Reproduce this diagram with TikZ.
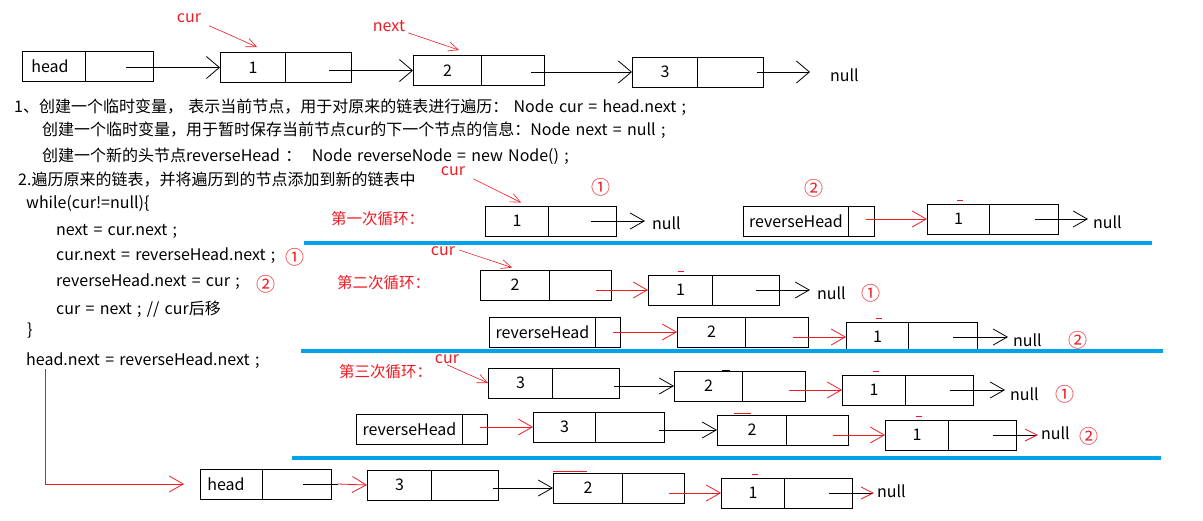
\documentclass[tikz,border=0pt]{standalone}
\usepackage{fontspec}
\setmainfont{Noto Sans CJK SC}
\usetikzlibrary{arrows.meta}
\definecolor{myred}{RGB}{237,28,36}
\definecolor{myblue}{RGB}{0,162,232}
\newcommand\cellt[2]{\noindent\makebox[#1]{#2}}
\newcommand\widesp{\spaceskip=5.3pt\relax}
\begin{document}
\begin{tikzpicture}[x=1pt,y=-1pt,
  cell/.style={draw, line width=0.9pt, minimum height=30pt, text width=131pt,
    inner xsep=0pt, inner ysep=0pt, align=left, anchor=west,
    font=\fontsize{16}{16}\selectfont,
    path picture={\draw[line width=0.9pt] ([xshift=#1]path picture bounding box.south west) -- ([xshift=#1]path picture bounding box.north west);}},
  txt/.style={anchor=west, inner sep=0pt, font=\fontsize{16}{19}\selectfont, execute at begin node=\widesp},
  rtxt/.style={anchor=center, inner sep=0pt, text=myred, font=\fontsize{15.5}{18}\selectfont},
  circ/.style={anchor=center, inner sep=0pt, text=myred, font=\fontsize{19}{20}\selectfont},
  bigar/.style={line width=0.8pt, -{Straight Barb[length=13pt,width=22pt]}},
  lar/.style={line width=0.8pt, -{Straight Barb[length=14pt,width=16pt]}},
  rar/.style={myred, line width=0.8pt, -{Straight Barb[length=14pt,width=16pt]}},
  cura/.style={myred, line width=0.6pt, -{Straight Barb[length=10pt,width=9pt]}},
  bline/.style={myblue, line width=3.5pt},
  rdash/.style={myred, line width=1pt}
]
\useasboundingbox (0,0) rectangle (1203,520);

% ---------- top row ----------
\node[cell=63pt] (h0) at (22,66.5) {\cellt{55pt}{head}};
\node[cell=65pt] (t1) at (220,67.5) {\cellt{65pt}{1}};
\node[cell=68pt] (t2) at (413,70.5) {\cellt{68pt}{2}};
\node[cell=65pt] (t3) at (632,72) {\cellt{65pt}{3}};
\node[txt] (n0) at (830,75) {null};
\draw[bigar] ([xshift=-28pt]h0.east |- t1.west) -- (t1.west);
\draw[bigar] ([xshift=-23pt]t1.east |- t2.west) -- (t2.west);
\draw[bigar] ([xshift=-14pt]t2.east |- t3.west) -- (t3.west);
\draw[bigar] ([xshift=-7pt]t3.east) -- ([xshift=-20pt]n0.west |- t3.east);
\node[rtxt, font=\fontsize{16}{18}\selectfont] (cur0) at (189,18) {cur};
\node[rtxt, font=\fontsize{16}{18}\selectfont] (next0) at (389,26) {next};
\draw[cura] ([shift={(8pt,-3pt)}]cur0.south east) -- ([shift={(37pt,5pt)}]t1.north west);
\draw[cura] ([shift={(3pt,-1pt)}]next0.south east) -- ([shift={(46pt,5pt)}]t2.north west);

% ---------- text ----------
\node[txt] (s1) at (14,107) {1、创建一个临时变量， 表示当前节点，用于对原来的链表进行遍历： Node cur = head.next ;};
\node[txt] (s2) at (42,130) {创建一个临时变量，用于暂时保存当前节点cur的下一个节点的信息：Node next = null ;};
\node[txt] (s3) at (42,156) {创建一个新的头节点reverseHead ：\ \ Node reverseNode = new Node() ;};
\node[txt] (s4) at (18,180) {2.遍历原来的链表，并将遍历到的节点添加到新的链表中};
\node[txt] (c0) at (26,204) {while(cur!=null)\{};
\node[txt] (c1) at (56,231) {next = cur.next ;};
\node[txt] (c2) at (56,256) {cur.next = reverseHead.next ;};
\node[txt] (c3) at (56,282) {reverseHead.next = cur ;};
\node[txt] (c4) at (56,309) {cur = next ; // cur后移};
\node[txt] (c5) at (27,331) {\}};
\node[txt] (c6) at (26,361) {head.next = reverseHead.next ;};
\node[circ] (m1) at (295,257) {①};
\node[circ] (m2) at (266,284) {②};

% ---------- loop 1 ----------
\node[rtxt, anchor=west] (lab1) at (331,219) {第一次循环：};
\node[rtxt, font=\fontsize{16}{18}\selectfont] (cur1) at (453,171) {cur};
\node[cell=63pt] (a1) at (485,221) {\cellt{63pt}{1}};
\node[txt] (nA) at (652,223) {null};
\draw[lar] ([xshift=-26pt]a1.east) -- ([xshift=-7pt]nA.west |- a1.east);
\draw[cura] ([shift={(8pt,-3pt)}]cur1.south east) -- ([shift={(36pt,3pt)}]a1.north west);
\node[circ] (p1) at (601,187) {①};
\node[circ] (p2) at (814,188) {②};
\node[cell=105pt] (r1) at (743,221) {\cellt{105pt}{reverseHead}};
\node[cell=62pt] (b1) at (927,219) {\cellt{62pt}{1}};
\draw[rdash] ([shift={(30pt,3pt)}]b1.north west) -- ([shift={(36pt,3pt)}]b1.north west);
\draw[rar] ([xshift=-9pt]r1.east |- b1.west) -- (b1.west);
\node[txt] (nB) at (1093,222) {null};
\draw[lar] ([xshift=-24pt]b1.east) -- ([xshift=-5pt]nB.west |- b1.east);
\coordinate (bl1a) at (304,243);
\coordinate (bl1b) at (1152,243);
\draw[bline] (bl1a) -- (bl1b);

% ---------- loop 2 ----------
\node[rtxt, anchor=west] (lab2) at (337,283) {第二次循环：};
\node[rtxt, font=\fontsize{16}{18}\selectfont] (cur2) at (443,251) {cur};
\node[cell=69pt] (a2) at (480,285) {\cellt{69pt}{2}};
\draw[cura] ([shift={(4pt,1pt)}]cur2.east) -- ([shift={(32pt,2pt)}]a2.north west);
\node[cell=64pt] (a2b) at (648,290) {\cellt{64pt}{1}};
\draw[rdash] ([shift={(30pt,3pt)}]a2b.north west) -- ([shift={(36pt,3pt)}]a2b.north west);
\draw[rar] ([xshift=-16pt]a2.east |- a2b.west) -- (a2b.west);
\node[txt] (nC) at (817,293) {null};
\draw[lar] ([xshift=-24pt]a2b.east) -- ([xshift=-7pt]nC.west |- a2b.east);
\node[circ] (q1) at (871,293) {①};
\node[cell=106pt] (r2) at (489,332) {\cellt{106pt}{reverseHead}};
\node[cell=68pt] (b2) at (677,332) {\cellt{68pt}{2}};
\draw[rar] ([xshift=-8pt]r2.east) -- (b2.west);
\node[cell=62pt] (c2b) at (846,337) {\cellt{62pt}{1}};
\draw[rdash] ([shift={(30pt,3pt)}]c2b.north west) -- ([shift={(36pt,3pt)}]c2b.north west);
\draw[rar] ([xshift=-16pt]b2.east |- c2b.west) -- (c2b.west);
\node[txt] (nD) at (1013,340) {null};
\draw[lar] ([xshift=-25pt]c2b.east) -- ([xshift=-5pt]nD.west |- c2b.east);
\node[circ] (q2) at (1078,340) {②};
\coordinate (bl2a) at (301,351);
\coordinate (bl2b) at (1163,351);
\draw[bline] (bl2a) -- (bl2b);

% ---------- loop 3 ----------
\node[rtxt, anchor=west] (lab3) at (339,372) {第三次循环：};
\node[rtxt, font=\fontsize{16}{18}\selectfont] (cur3) at (447,359) {cur};
\node[cell=64pt] (a3) at (488,383) {\cellt{64pt}{3}};
\draw[cura] ([shift={(0pt,-1pt)}]cur3.south) -- (a3.west);
\node[cell=68pt] (a3b) at (674,386) {\cellt{68pt}{2}};
\draw[line width=1.5pt] ([shift={(48pt,0pt)}]a3b.north west) -- ([shift={(56pt,0pt)}]a3b.north west);
\draw[lar] ([xshift=-6pt]a3.east |- a3b.west) -- (a3b.west);
\node[cell=63pt] (c3b) at (842,390) {\cellt{63pt}{1}};
\draw[rdash] ([shift={(31pt,3pt)}]c3b.north west) -- ([shift={(37pt,3pt)}]c3b.north west);
\draw[rar] ([xshift=-17pt]a3b.east |- c3b.west) -- (c3b.west);
\node[txt] (nE) at (1010,394) {null};
\draw[lar] ([xshift=-24pt]c3b.east) -- ([xshift=-5pt]nE.west |- c3b.east);
\node[circ] (u1) at (1065,394) {①};
\node[cell=106pt] (r3) at (356,429) {\cellt{106pt}{reverseHead}};
\node[cell=62pt] (d3) at (533,427) {\cellt{62pt}{3}};
\draw[rar] ([xshift=-8pt]r3.east |- d3.west) -- (d3.west);
\node[cell=69pt] (e3) at (717,430) {\cellt{69pt}{2}};
\draw[myred, line width=1.5pt] ([shift={(17pt,1pt)}]e3.north west) -- ([shift={(34pt,1pt)}]e3.north west);
\draw[lar] ([xshift=-6pt]d3.east |- e3.west) -- (e3.west);
\node[cell=63pt] (f3) at (885,435) {\cellt{63pt}{1}};
\draw[rdash] ([shift={(31pt,3pt)}]f3.north west) -- ([shift={(37pt,3pt)}]f3.north west);
\draw[rar] ([xshift=-16pt]e3.east |- f3.west) -- (f3.west);
\node[txt] (nF) at (1041,433) {null};
\draw[line width=0.8pt, -{Straight Barb[length=12pt,width=12pt,color=myred]}] ([xshift=-24pt]f3.east) -- ([xshift=-3pt]nF.west |- f3.east);
\node[circ] (u2) at (1089,436) {②};
\coordinate (bl3a) at (292,458);
\coordinate (bl3b) at (1161,458);
\draw[bline] (bl3a) -- (bl3b);

% ---------- bottom ----------
\node[cell=62pt] (hb) at (200,484) {\cellt{51pt}{head}};
\node[cell=64pt] (hc) at (367,485) {\cellt{64pt}{3}};
\node[cell=69pt] (hd) at (553,488) {\cellt{69pt}{2}};
\node[cell=63pt] (he) at (721,493) {\cellt{63pt}{1}};
\node[txt] (nG) at (877,491) {null};
\draw[rar] ([xshift=19pt]c6.south west) |- ([xshift=-16pt]hb.west);
\coordinate (hbmid) at ([xshift=6pt]hb.east);
\draw[line width=0.8pt] ([xshift=-29pt]hb.east) -- (hbmid);
\draw[rar] (hbmid) -- (hc.west);
\draw[lar] ([xshift=-6pt]hc.east |- hd.west) -- (hd.west);
\draw[myred, line width=1.5pt] ([shift={(0pt,1pt)}]hd.north west) -- ([shift={(34pt,1pt)}]hd.north west);
\draw[rdash] ([shift={(31pt,3pt)}]he.north west) -- ([shift={(37pt,3pt)}]he.north west);
\draw[rar] ([xshift=-16pt]hd.east |- he.west) -- (he.west);
\draw[line width=0.8pt, -{Straight Barb[length=12pt,width=12pt,color=myred]}] ([xshift=-24pt]he.east) -- ([xshift=-3pt]nG.west |- he.east);
\end{tikzpicture}
\end{document}
